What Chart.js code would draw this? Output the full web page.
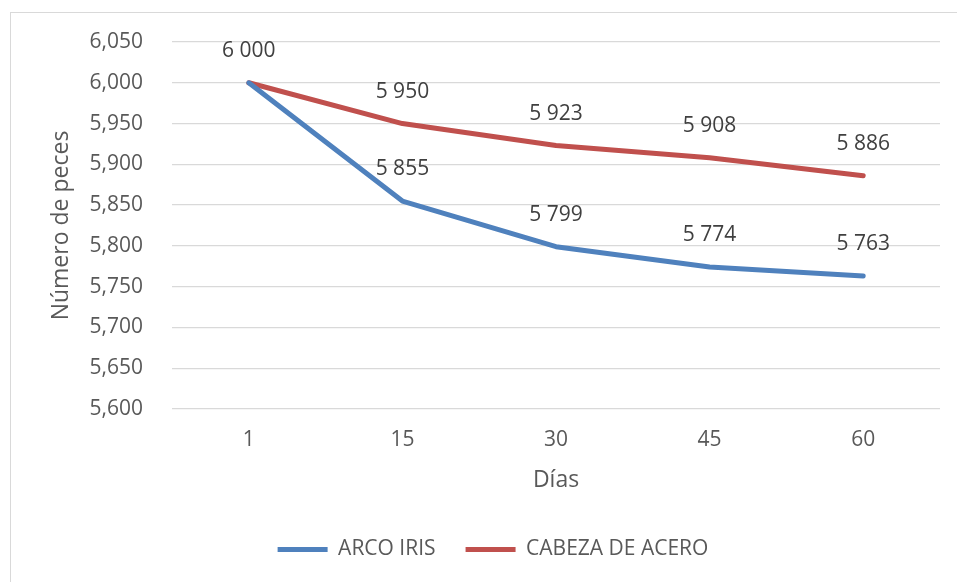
<!DOCTYPE html>
<html>
<head>
<meta charset="utf-8">
<script src="https://cdn.jsdelivr.net/npm/chart.js@4/dist/chart.umd.min.js"></script>
<style>
  html, body { margin: 0; padding: 0; background: #ffffff; }
  #wrap { position: relative; width: 957px; height: 582px; overflow: hidden; }
  #frame { position: absolute; left: 10px; top: 12px; width: 980px; height: 600px; border: 1px solid #d9d9d9; box-sizing: border-box; }
  canvas { position: absolute; left: 0; top: 0; }
</style>
</head>
<body>
<div id="wrap">
  <div id="frame"></div>
  <canvas id="chart" width="957" height="582"></canvas>
</div>
<script>
// Days sampled and fish counts per strain
const dias = ['1', '15', '30', '45', '60'];
const arcoIris = [6000, 5855, 5799, 5774, 5763];
const cabezaAcero = [6000, 5950, 5923, 5908, 5886];
const yTicks = [5600, 5650, 5700, 5750, 5800, 5850, 5900, 5950, 6000, 6050];

const FONT = '"Open Sans", sans-serif';

// Value labels above each point, thousands separated by a space
const pointLabels = {
  id: 'pointLabels',
  afterDatasetsDraw(chart) {
    const ctx = chart.ctx;
    ctx.save();
    ctx.font = '21px ' + FONT;
    ctx.fillStyle = '#404040';
    ctx.textAlign = 'center';
    ctx.textBaseline = 'middle';
    const seen = new Set();
    chart.data.datasets.forEach((ds, i) => {
      const meta = chart.getDatasetMeta(i);
      meta.data.forEach((pt, j) => {
        const txt = String(ds.data[j]).replace(/\B(?=(\d{3})+(?!\d))/g, ' ');
        const key = j + ':' + txt;
        if (seen.has(key)) return;
        seen.add(key);
        ctx.fillText(txt, pt.x, pt.y - 32);
      });
    });
    ctx.restore();
  }
};

new Chart(document.getElementById('chart'), {
  type: 'line',
  data: {
    labels: dias,
    datasets: [
      {
        label: 'ARCO IRIS',
        data: arcoIris,
        borderColor: '#4f81bd',
        backgroundColor: '#4f81bd',
        borderWidth: 5,
        borderCapStyle: 'round',
        borderJoinStyle: 'round',
        pointRadius: 0,
        tension: 0
      },
      {
        label: 'CABEZA DE ACERO',
        data: cabezaAcero,
        borderColor: '#c0504d',
        backgroundColor: '#c0504d',
        borderWidth: 5,
        borderCapStyle: 'round',
        borderJoinStyle: 'round',
        pointRadius: 0,
        tension: 0
      }
    ]
  },
  options: {
    responsive: false,
    animation: false,
    layout: { padding: { left: 46, top: 42, right: 17, bottom: 12 } },
    plugins: {
      tooltip: { enabled: false },
      legend: {
        position: 'bottom',
        labels: {
          usePointStyle: true,
          pointStyle: 'line',
          pointStyleWidth: 50,
          boxHeight: 21,
          padding: 30,
          color: '#595959',
          font: { family: FONT, size: 21 }
        }
      }
    },
    scales: {
      x: {
        offset: true,
        grid: { display: false, drawTicks: false },
        border: { display: false },
        ticks: { color: '#595959', font: { family: FONT, size: 21 }, padding: 18 },
        title: {
          display: true,
          text: 'Días',
          color: '#595959',
          font: { family: FONT, size: 23 },
          padding: { top: 0, bottom: 15 }
        },
        afterFit(s) { s.height = 100; }
      },
      y: {
        min: 5600,
        max: 6050,
        afterBuildTicks(s) { s.ticks = yTicks.map(v => ({ value: v })); },
        grid: { color: '#d9d9d9', lineWidth: 1.3, drawTicks: false },
        border: { display: false },
        ticks: {
          color: '#595959',
          font: { family: FONT, size: 21 },
          padding: 29,
          callback: v => v.toLocaleString('en-US')
        },
        title: {
          display: true,
          text: 'Número de peces',
          color: '#595959',
          font: { family: FONT, size: 23 },
          padding: { top: 2, bottom: 0 }
        },
        afterFit(s) { s.width = 126; }
      }
    }
  },
  plugins: [pointLabels]
});
</script>
</body>
</html>
